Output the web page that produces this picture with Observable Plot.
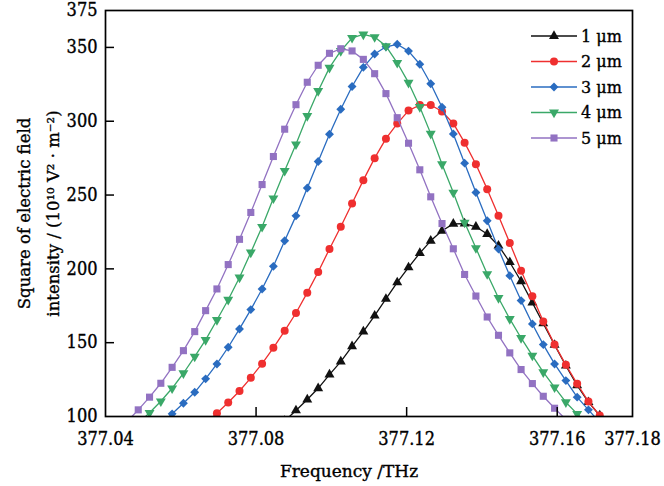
<!DOCTYPE html>
<html><head><meta charset="utf-8">
<script src="https://cdn.jsdelivr.net/npm/d3@7"></script>
<script src="https://cdn.jsdelivr.net/npm/@observablehq/plot@0.6"></script>
<style>
body{margin:0;background:#fff;}
#wrap{position:relative;width:664px;height:486px;}
#wrap svg text{stroke:#000;stroke-width:0.35px;}
</style></head><body>
<div id="wrap"></div>
<script>
// Shared frequency sampling grid (THz)
const freqGrid = [377.0457, 377.0487, 377.0517, 377.0547, 377.0577, 377.0607, 377.0637, 377.0666, 377.0696, 377.0726,
  377.0756, 377.0786, 377.0816, 377.0846, 377.0876, 377.0906, 377.0936, 377.0965, 377.0995, 377.1025,
  377.1055, 377.1085, 377.1115, 377.1145, 377.1175, 377.1205, 377.1235, 377.1264, 377.1294, 377.1324,
  377.1354, 377.1384, 377.1414, 377.1444, 377.1474, 377.1504, 377.1534, 377.1563, 377.1593, 377.1623,
  377.1653, 377.1683, 377.1713, 377.1743];

const seriesNames = ["1 μm", "2 μm", "3 μm", "4 μm", "5 μm"];
// index of first value in freqGrid for each series
const seriesStart = [14, 7, 3, 1, 0];

const vals1um = [97.0, 104.1, 111.5, 119.1, 128.4, 137.2, 147.5, 157.5, 168.3, 179.6, 190.8, 201.0, 210.7, 219.0, 225.8,
  230.5, 230.7, 228.5, 223.6, 215.7, 204.5, 191.6, 177.1, 163.0, 148.5, 134.4, 121.0, 109.7, 100.7, 93.0];
const vals2um = [95.5, 102.2, 109.5, 117.3, 126.2, 135.8, 146.5, 158.0, 170.1, 183.9, 197.9, 213.5, 228.5, 244.3, 260.1,
  275.0, 288.2, 298.4, 307.2, 311.0, 311.0, 306.6, 298.5, 285.5, 270.9, 254.0, 235.9, 217.6, 198.7, 181.4,
  164.3, 148.7, 135.0, 122.1, 110.1, 100.7, 92.0];
const vals3um = [95.0, 101.8, 109.0, 116.4, 125.5, 135.6, 146.9, 159.3, 172.4, 186.4, 201.7, 219.0, 235.9, 254.8, 272.7,
  291.2, 308.1, 323.5, 336.5, 345.5, 350.4, 352.1, 347.5, 338.6, 325.4, 309.5, 291.4, 271.6, 251.7, 232.6,
  213.4, 195.4, 178.5, 162.7, 148.7, 135.6, 124.3, 113.1, 104.5, 96.0];
const vals4um = [95.5, 102.5, 110.3, 119.1, 129.3, 140.6, 151.9, 165.4, 179.1, 194.2, 211.1, 228.5, 247.8, 266.4, 284.4,
  303.6, 320.5, 336.3, 347.6, 356.5, 358.8, 357.0, 350.9, 339.6, 326.1, 309.7, 291.6, 270.9, 251.7, 231.4,
  214.1, 196.5, 180.3, 166.1, 153.2, 141.3, 130.0, 119.8, 109.7, 101.8, 94.5];
const vals5um = [96.5, 104.5, 113.1, 122.5, 133.3, 144.6, 157.5, 171.7, 186.4, 202.9, 220.0, 238.2, 257.1, 276.1, 294.6,
  311.2, 326.4, 337.9, 346.0, 349.1, 347.6, 341.9, 332.2, 318.7, 302.4, 285.1, 267.1, 248.8, 230.7, 213.6,
  196.2, 181.6, 167.4, 155.0, 143.1, 131.8, 122.3, 113.7, 105.6, 98.0];

const xTicks = [377.04, 377.08, 377.12, 377.16, 377.18];
const yTicks = [100, 150, 200, 250, 300, 350, 375];
const xInnerTicks = [377.08, 377.12, 377.16];
const yInnerTicks = [150, 200, 250, 300, 350];

const xTitle = "Frequency /THz";
const yTitle = "Square of electric field\nintensity / (10¹⁰ V² · m⁻²)";

// styles
const colors = ["#111111", "#ef2f2f", "#2a6cc0", "#3aa868", "#9272c2"];
const triDown = {
  draw(ctx, size) {
    const y = Math.sqrt(size / (Math.sqrt(3) * 3));
    ctx.moveTo(0, 2 * y);
    ctx.lineTo(-Math.sqrt(3) * y, -y);
    ctx.lineTo(Math.sqrt(3) * y, -y);
    ctx.closePath();
  }
};
const symbols = ["triangle", "circle", "diamond2", triDown, "square"];
const radii = [3.7, 4, 4, 3.7, 4];

const allVals = [vals1um, vals2um, vals3um, vals4um, vals5um];

const W = 664, H = 486, mL = 105, mR = 32, mT = 10, mB = 70;
const innerW = W - mL - mR, innerH = H - mT - mB;
const tickFont = "'DejaVu Serif Condensed', 'DejaVu Serif', serif";

const marks = [];
allVals.forEach((vals, s) => {
  const data = vals.map((v, i) => ({f: freqGrid[seriesStart[s] + i], v, name: seriesNames[s]}));
  marks.push(Plot.line(data, {x: "f", y: "v", stroke: colors[s], strokeWidth: 1.3, clip: true}));
  marks.push(Plot.dot(data, {x: "f", y: "v", fill: colors[s], symbol: symbols[s], r: radii[s], clip: true}));
});

const chart = Plot.plot({
  width: W, height: H,
  marginLeft: mL, marginRight: mR, marginTop: mT, marginBottom: mB,
  style: {fontFamily: "'DejaVu Serif', serif", fontSize: "16px", background: "white", color: "black"},
  x: {domain: [377.04, 377.18]},
  y: {domain: [100, 375]},
  marks: [
    ...marks,
    Plot.gridX(xInnerTicks, {stroke: "black", strokeOpacity: 1, strokeWidth: 1.5, insetTop: innerH - 9}),
    Plot.gridY(yInnerTicks, {stroke: "black", strokeOpacity: 1, strokeWidth: 1.5, insetRight: innerW - 9}),
    Plot.axisX(xTicks, {tickSize: 0, tickPadding: 16, tickFormat: d3.format(".2f"), label: null, fontFamily: tickFont, fontSize: 18}),
    Plot.axisY(yTicks, {tickSize: 0, tickPadding: 8, label: null, fontFamily: tickFont, fontSize: 18}),
    Plot.frame({stroke: "black", strokeWidth: 1.7}),
    Plot.text([xTitle], {text: d => d, frameAnchor: "bottom", dy: 60, dx: -20, lineAnchor: "bottom", fontSize: 17}),
    Plot.text([yTitle], {text: d => d, frameAnchor: "left", textAnchor: "middle", rotate: -90, dx: -70, lineHeight: 1.75, lineAnchor: "middle", fontSize: 16.5})
  ]
});
const wrap = document.getElementById("wrap");
wrap.appendChild(chart);

// legend overlay
const leg = d3.select(wrap).append("svg")
  .attr("width", W).attr("height", H)
  .style("position", "absolute").style("left", "0px").style("top", "0px")
  .style("font-family", "'DejaVu Serif', serif").style("font-size", "16px");
const legX0 = 531, legX1 = 577, legMid = 554, legText = 581, legY0 = 36, legDy = 25.5;
seriesNames.forEach((name, s) => {
  const y = legY0 + legDy * s;
  const g = leg.append("g");
  g.append("line").attr("x1", legX0).attr("x2", legX1).attr("y1", y).attr("y2", y)
    .attr("stroke", colors[s]).attr("stroke-width", 1.3);
  const sym = typeof symbols[s] === "string"
    ? {triangle: d3.symbolTriangle, circle: d3.symbolCircle, diamond2: d3.symbolDiamond2, square: d3.symbolSquare}[symbols[s]]
    : symbols[s];
  g.append("path").attr("d", d3.symbol(sym, Math.PI * radii[s] * radii[s])())
    .attr("transform", `translate(${legMid},${y})`).attr("fill", colors[s]);
  g.append("text").attr("x", legText).attr("y", y).attr("dy", "0.35em").attr("fill", "black").text(name);
});
</script></body></html>
